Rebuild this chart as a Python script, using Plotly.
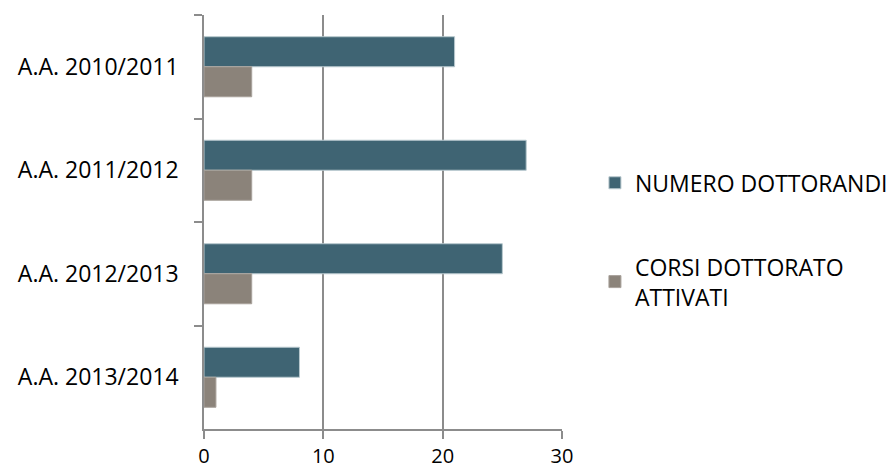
import plotly.graph_objects as go

categories = ["A.A. 2010/2011", "A.A. 2011/2012", "A.A. 2012/2013", "A.A. 2013/2014"]
numero_dottorandi = [21, 27, 25, 8]
corsi_attivati = [4, 4, 4, 1]
series_names = ["NUMERO DOTTORANDI", "CORSI DOTTORATO<br>ATTIVATI"]
x_ticks = [0, 10, 20, 30]

fig = go.Figure()
fig.add_trace(go.Bar(y=categories, x=numero_dottorandi, orientation="h", name=series_names[0],
                     legendgroup="a",
                     marker=dict(color="#3F6473", line=dict(color="#B8C8CE", width=1))))
fig.add_trace(go.Bar(y=categories, x=corsi_attivati, orientation="h", name=series_names[1],
                     legendgroup="b",
                     marker=dict(color="#8B837A", line=dict(color="#A8A29B", width=1))))

font_family = "Open Sans, Liberation Sans, sans-serif"
fig.update_layout(
    width=888, height=465,
    margin=dict(l=196, r=334, t=7, b=44, autoexpand=False),
    paper_bgcolor="white", plot_bgcolor="white",
    barmode="group", bargap=0.42, bargroupgap=0,
    font=dict(family=font_family, size=23, color="black"),
    showlegend=True,
    legend=dict(x=1.092, xanchor="left", y=0.457, yanchor="middle",
                traceorder="grouped", tracegroupgap=51,
                font=dict(size=23, color="black"), itemwidth=30),
    xaxis=dict(range=[0, 30], tickvals=x_ticks, showgrid=True, gridcolor="#8C8C8C", gridwidth=1.5,
               showline=True, linecolor="#8C8C8C", linewidth=1.5,
               ticks="outside", ticklen=8, tickcolor="#8C8C8C", tickwidth=1.5,
               tickfont=dict(size=20), ticklabelstandoff=0, zeroline=False, fixedrange=True),
    yaxis=dict(autorange="reversed", showline=True, linecolor="#8C8C8C", linewidth=1.5,
               ticks="outside", tickson="boundaries", ticklen=8, tickcolor="#8C8C8C", tickwidth=1.5,
               tickfont=dict(size=23), ticklabelstandoff=19, showgrid=False),
)
fig.write_html("out.html")
